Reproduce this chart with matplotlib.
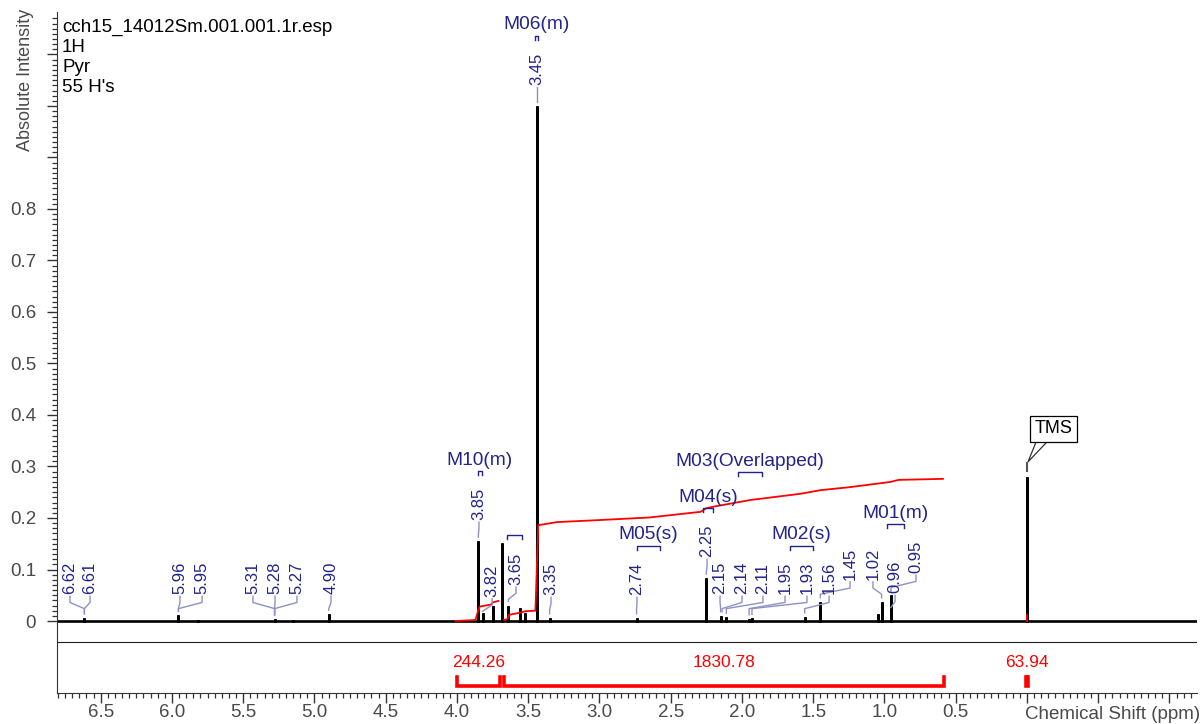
import numpy as np
import matplotlib
matplotlib.use('Agg')
import matplotlib.pyplot as plt
from matplotlib.ticker import MultipleLocator, FixedLocator, FuncFormatter

plt.rcParams['font.family'] = ['Liberation Sans', 'DejaVu Sans']

# spectrum peaks (ppm, absolute intensity)
peak_ppm = [6.615, 5.955, 5.82, 5.28, 5.15, 4.90, 3.85, 3.82, 3.75, 3.685, 3.64, 3.56, 3.52,
            3.44, 3.35, 2.74, 2.25, 2.15, 2.11, 1.95, 1.93, 1.56, 1.45, 1.045, 1.02, 0.955, 0.0]
peak_int = [0.006, 0.011, 0.002, 0.004, 0.002, 0.013, 0.155, 0.015, 0.030, 0.152, 0.030, 0.025, 0.015,
            1.0, 0.006, 0.006, 0.083, 0.010, 0.007, 0.004, 0.005, 0.008, 0.037, 0.014, 0.037, 0.050, 0.28]

# integral curves
int1_ppm = [4.01, 3.87, 3.85, 3.84, 3.76, 3.75, 3.71]
int1_val = [0.0, 0.002, 0.022, 0.028, 0.032, 0.036, 0.039]
int2_ppm = [3.67, 3.645, 3.635, 3.56, 3.52, 3.45, 3.44, 3.43, 3.30, 3.00, 2.65, 2.29, 2.25, 2.20,
            1.94, 1.59, 1.45, 1.24, 0.96, 0.90, 0.59]
int2_val = [0.002, 0.004, 0.012, 0.016, 0.019, 0.020, 0.10, 0.186, 0.192, 0.196, 0.201, 0.212, 0.219,
            0.222, 0.235, 0.247, 0.254, 0.260, 0.270, 0.274, 0.276]
int_values = ['244.26', '1830.78', '63.94']
int_from = [4.00, 3.67, 0.008]
int_to = [3.70, 0.58, -0.008]

# peak labels
label_text = ['6.62', '6.61', '5.96', '5.95', '5.31', '5.28', '5.27', '4.90', '3.85', '3.82', '3.65',
              '3.45', '3.35', '2.74', '2.25', '2.15', '2.14', '2.11', '1.95', '1.93', '1.56', '1.45',
              '1.02', '0.96', '0.95']
label_peak = [6.615, 6.615, 5.955, 5.955, 5.28, 5.28, 5.28, 4.90, 3.85, 3.82, 3.64, 3.44, 3.35, 2.74,
              2.25, 2.15, 2.14, 2.11, 1.95, 1.93, 1.56, 1.45, 1.02, 0.955, 0.955]
# label layout: text x (ppm) and text bottom (intensity)
label_x = [6.716, 6.575, 5.944, 5.789, 5.432, 5.277, 5.123, 4.884, 3.846, 3.754, 3.586, 3.44, 3.34,
           2.737, 2.245, 2.154, 2.0, 1.853, 1.698, 1.544, 1.389, 1.242, 1.081, 0.926, 0.779]
label_y = [0.052] * 8 + [0.196, 0.047, 0.07, 1.041, 0.05, 0.05, 0.124, 0.052, 0.052, 0.052, 0.052,
                         0.052, 0.052, 0.08, 0.08, 0.054, 0.093]

# multiplets
mult_names = ['M01(m)', 'M02(s)', 'M03(Overlapped)', 'M04(s)', 'M05(s)', 'M06(m)', 'M10(m)', '']
mult_from = [0.982, 1.663, 2.028, 2.274, 2.737, 3.453, 3.855, 3.649]
mult_to = [0.863, 1.502, 1.860, 2.204, 2.575, 3.432, 3.825, 3.544]
mult_y = [0.188, 0.146, 0.289, 0.219, 0.146, 1.136, 0.291, 0.167]

navy = '#23238a'
lead = '#9090c8'
red = '#ff0000'
grey = '#4a4a4a'

fig = plt.figure(figsize=(12.02, 7.24), dpi=100)
ax = fig.add_axes([57 / 1202, 31 / 724, 1140 / 1202, 681 / 724])
xmin, xmax = -1.193, 6.807
ax.set_xlim(xmax, xmin)
ax.set_ylim(-0.1398, 1.1825)

# spectrum
order = np.argsort(peak_ppm)[::-1]
xs, ys = [xmax], [0.0]
for i in order:
    xs += [peak_ppm[i], peak_ppm[i], peak_ppm[i]]
    ys += [0.0, peak_int[i], 0.0]
xs.append(xmin)
ys.append(0.0)
ax.plot(xs, ys, color='black', lw=1.9, solid_joinstyle='miter')

# integral curves
ax.plot(int1_ppm, int1_val, color=red, lw=1.3)
ax.plot(int2_ppm, int2_val, color=red, lw=1.3)
ax.plot([0.0, 0.0], [0.0, 0.012], color=red, lw=1.3)

# separator between spectrum and integral area
ax.axhline(-0.04, color='#202020', lw=0.8)

# integral brackets
for v, a, b in zip(int_values, int_from, int_to):
    ax.plot([a, a, b, b], [-0.108, -0.126, -0.126, -0.108], color=red, lw=2.6,
            solid_joinstyle='miter')
    ax.text((a + b) / 2, -0.08, v, color=red, fontsize=12.5, ha='center', va='center')

# peak labels with leader lines
for t, pk, lx, ly in zip(label_text, label_peak, label_x, label_y):
    ax.text(lx, ly, t, rotation=90, color=navy, fontsize=12, ha='center', va='bottom')
    h = peak_int[int(np.argmin(np.abs(np.array(peak_ppm) - pk)))]
    k1 = ly - 0.016
    k2 = ly - 0.028
    end = min(h + 0.008, k2)
    ax.plot([lx, lx, pk, pk], [ly - 0.004, k1, k2, end], color=lead, lw=1.0)

# multiplet brackets
for n, a, b, y in zip(mult_names, mult_from, mult_to, mult_y):
    ax.plot([a, a, b, b], [y - 0.008, y, y, y - 0.008], color=navy, lw=1.0)
    if n:
        ax.text((a + b) / 2, y + 0.005, n, color=navy, fontsize=13.8, ha='center', va='bottom')

# TMS callout
ax.text(-0.189, 0.373, 'TMS', fontsize=13, ha='center', va='center', color='black',
        bbox=dict(boxstyle='square,pad=0.25', fc='white', ec='black', lw=0.9))
ax.plot([-0.07, -0.007, -0.155], [0.352, 0.309, 0.352], color='#333333', lw=0.9)
ax.plot([0.0, 0.0], [0.307, 0.292], color='#555555', lw=1.5)

# axes styling
for s in ['top', 'right']:
    ax.spines[s].set_visible(False)
ax.spines['left'].set_color('#333333')
ax.spines['bottom'].set_color('#333333')

ax.xaxis.set_major_locator(MultipleLocator(0.5))
ax.xaxis.set_minor_locator(MultipleLocator(0.05))
ax.xaxis.set_major_formatter(FuncFormatter(lambda v, p: f'{v:.1f}' if v > 0.25 else ''))
ax.set_yticks(np.arange(0, 1.15, 0.1))
ax.yaxis.set_minor_locator(FixedLocator(np.arange(0, 1.18, 0.01)))
ax.yaxis.set_major_formatter(FuncFormatter(lambda v, p: ('0' if abs(v) < 1e-9 else f'{v:.1f}') if v < 0.85 else ''))
ax.tick_params(axis='both', which='major', length=7, width=1, color='#333333',
               labelsize=13.5, labelcolor=grey)
ax.tick_params(axis='both', which='minor', length=3.5, width=0.9, color='#333333')
ax.tick_params(axis='x', pad=1)
ax.tick_params(axis='y', pad=8)

ax.text(0.014, -0.031, 'Chemical Shift (ppm)', transform=ax.get_xaxis_transform(),
        ha='left', va='center', fontsize=13.5, color=grey)
fig.text(25 / 1202, 1 - 80 / 724, 'Absolute Intensity', rotation=90, ha='center', va='center',
         fontsize=13, color=grey)

info = ['cch15_14012Sm.001.001.1r.esp', '1H', 'Pyr', "55 H's"]
for i, line in enumerate(info):
    fig.text(62 / 1202, 1 - (27 + 20 * i) / 724, line, ha='left', va='center', fontsize=13.5,
             color='black')

fig.savefig('out.png', dpi=100)
